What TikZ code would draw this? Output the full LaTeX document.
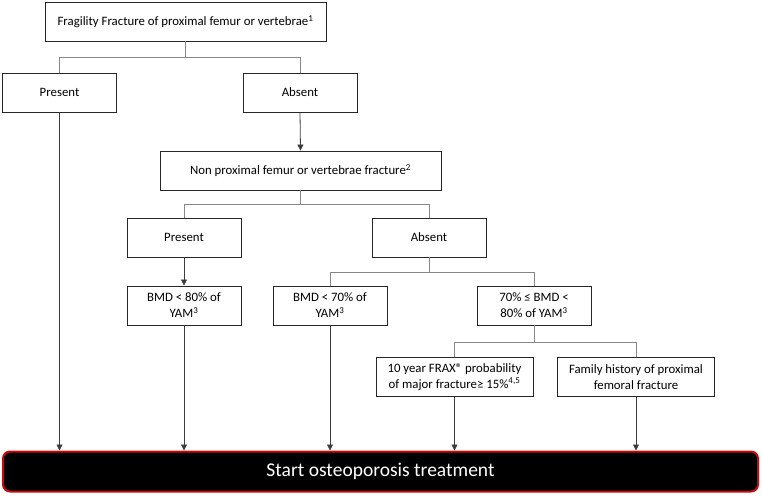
\documentclass[tikz,border=0pt]{standalone}
\usepackage{fontspec}
\setmainfont{Carlito}
\usetikzlibrary{arrows.meta,calc}
\definecolor{linegrey}{RGB}{135,135,135}
\definecolor{arrowgrey}{RGB}{60,60,60}
\definecolor{boxred}{RGB}{200,10,10}
\tikzset{
    % plain decision box
    box/.style={
        draw=black!85,
        fill=white,
        line width=0.9pt,
        minimum width=114pt,
        minimum height=39pt,
        inner sep=1pt,
        align=center,
        font=\fontsize{12.8}{16}\selectfont,
    },
    % wide question box
    widebox/.style={
        box,
        minimum width=281pt,
    },
    % criteria box
    critbox/.style={
        box,
        minimum width=157pt,
    },
    % final action
    action/.style={
        draw=boxred,
        fill=black,
        text=white,
        line width=2pt,
        rounded corners=7pt,
        minimum width=755pt,
        minimum height=40pt,
        font=\fontsize{19.5}{23}\selectfont,
    },
    % tree branches
    branch/.style={
        linegrey,
        line width=0.8pt,
    },
    % arrows
    flow/.style={
        arrowgrey,
        line width=0.8pt,
        -{Triangle[length=6pt,width=6pt]},
    },
}

\begin{document}
\begin{tikzpicture}[x=1pt,y=-1pt]
\useasboundingbox (0,0) rectangle (762,495);
% Level 1
\node[widebox] (frag) at (185.5,21.5) {Fragility Fracture of proximal femur or vertebrae\textsuperscript{1}};
\node[box] (pres1) at (59.5,92.5) {Present};
\node[box] (abs1) at (300,92.5) {Absent};
% Level 2
\node[widebox] (nonprox) at (300.5,170.5) {Non proximal femur or vertebrae fracture\textsuperscript{2}};
\node[box] (pres2) at (184,237.5) {Present};
\node[box] (abs2) at (429,237.5) {Absent};
% Level 3
\node[box] (bmd80) at (184,305.5) {BMD < 80\% of\\YAM\textsuperscript{3}};
\node[box] (bmd70) at (330,305.5) {BMD < 70\% of\\YAM\textsuperscript{3}};
\node[box] (bmdmid) at (534,305.5) {70\% ≤ BMD <\\80\% of YAM\textsuperscript{3}};
% Level 4
\node[critbox] (frax) at (454.5,377) {10 year FRAX® probability\\of major fracture≥ 15\%\textsuperscript{4,5}};
\node[critbox] (family) at (636,377) {Family history of proximal\\femoral fracture};
% Result
\node[action] (start) at (380.5,471.5) {Start osteoporosis treatment};

% Branches
\draw[branch] (frag.south) -- ++(0,16) coordinate (j1);
\draw[branch] (j1) -| (pres1.north);
\draw[branch] (j1) -| (abs1.north);
\draw[branch] (nonprox.south) -- ++(0,14) coordinate (j2);
\draw[branch] (j2) -| (pres2.north);
\draw[branch] (j2) -| (abs2.north);
\draw[branch] (abs2.south) -- ++(0,15) coordinate (j3);
\draw[branch] (j3) -| (bmd70.north);
\draw[branch] (j3) -| (bmdmid.north);
\draw[branch] (bmdmid.south) -- ++(0,17) coordinate (j4);
\draw[branch] (j4) -| (frax.north);
\draw[branch] (j4) -| (family.north);

% Arrows
\draw[flow] (abs1.south) -- (nonprox.north);
\draw[flow] (pres2.south) -- (bmd80.north);
\draw[flow] (pres1.south) -- (pres1.south |- start.north);
\draw[flow] (bmd80.south) -- (bmd80.south |- start.north);
\draw[flow] (bmd70.south) -- (bmd70.south |- start.north);
\draw[flow] (frax.south) -- (frax.south |- start.north);
\draw[flow] (family.south) -- (family.south |- start.north);
\end{tikzpicture}
\end{document}
